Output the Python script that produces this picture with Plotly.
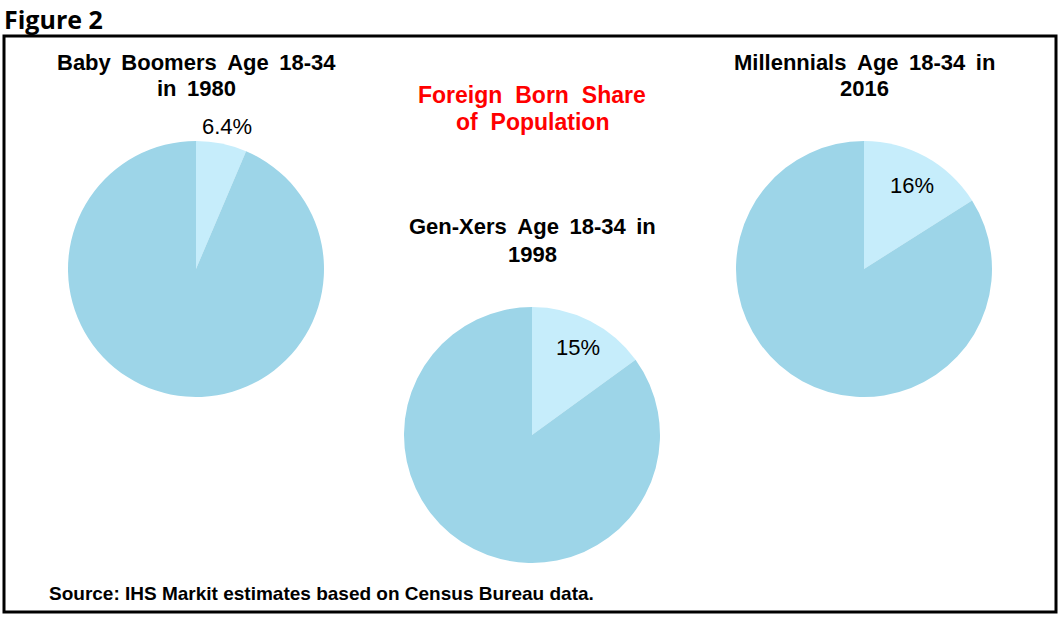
import math
import plotly.graph_objects as go

W, H = 1059, 617

# Data
title_lines = [["Baby Boomers Age 18-34", "in 1980"],
               ["Gen-Xers Age 18-34 in", "1998"],
               ["Millennials Age 18-34 in", "2016"]]
slice_names = ["Foreign born", "Native born"]
foreign_share = [6.4, 15, 16]
label_text = ["6.4%", "15%", "16%"]

# layout (pixel centers, radius)
centers = [(196, 269), (532, 435), (864, 269)]
R = 128
label_radius = [1.14, 0.765, 0.74]   # fraction of radius where the label sits
title_y = [(62, 89), (227, 254), (62, 89)]

colors = ["#C6EDFB", "#9DD5E8"]
FONT = "Liberation Sans, Arial"


def px(x):
    return x / W


def py(y):
    return 1 - y / H


def spaced(s):
    return s.replace(" ", " \u2009")


fig = go.Figure()
annos = []
for i in range(3):
    cx, cy = centers[i]
    fig.add_trace(go.Pie(
        labels=slice_names,
        values=[foreign_share[i], 100 - foreign_share[i]],
        textinfo="none",
        marker=dict(colors=colors, line=dict(width=0)),
        sort=False, direction="clockwise", rotation=0,
        domain=dict(x=[px(cx - R), px(cx + R)], y=[py(cy + R), py(cy - R)]),
        showlegend=False, hoverinfo="label+value",
    ))
    # percentage label at the middle angle of the foreign-born slice
    ang = math.radians(foreign_share[i] / 100 * 360 / 2)
    rr = R * label_radius[i]
    annos.append(dict(text=label_text[i], x=px(cx + rr * math.sin(ang) + 2), y=py(cy - rr * math.cos(ang)),
                      xref="paper", yref="paper", showarrow=False, xanchor="center", yanchor="middle",
                      font=dict(family=FONT, size=22, color="black")))
    for line, ly in zip(title_lines[i], title_y[i]):
        annos.append(dict(text="<b>" + spaced(line) + "</b>", x=px(cx), y=py(ly), xref="paper", yref="paper",
                          showarrow=False, xanchor="center", yanchor="middle",
                          font=dict(family=FONT, size=22, color="black")))

for line, ly in zip(["Foreign Born Share", "of Population"], [95, 122]):
    annos.append(dict(text="<b>" + line.replace(" ", " \u2009\u200a") + "</b>", x=px(532), y=py(ly),
                      xref="paper", yref="paper", showarrow=False, xanchor="center", yanchor="middle",
                      font=dict(family=FONT, size=23, color="#FF0000")))
annos.append(dict(text="<b>Source: IHS Markit estimates based on Census Bureau data.</b>", x=px(47), y=py(593),
                  xref="paper", yref="paper", showarrow=False, xanchor="left", yanchor="middle",
                  font=dict(family=FONT, size=19, color="black")))
annos.append(dict(text="<b>Figure 2</b>", x=px(2), y=1, xref="paper", yref="paper",
                  showarrow=False, xanchor="left", yanchor="top",
                  font=dict(family="Open Sans", size=25, color="black")))

fig.update_layout(
    width=W, height=H, margin=dict(l=0, r=0, t=0, b=0),
    paper_bgcolor="white", plot_bgcolor="white",
    annotations=annos,
    shapes=[dict(type="rect", xref="paper", yref="paper", x0=px(4), x1=px(1056), y0=py(612), y1=py(36),
                 line=dict(color="black", width=3), fillcolor="rgba(0,0,0,0)")],
)
fig.write_html("out.html")
